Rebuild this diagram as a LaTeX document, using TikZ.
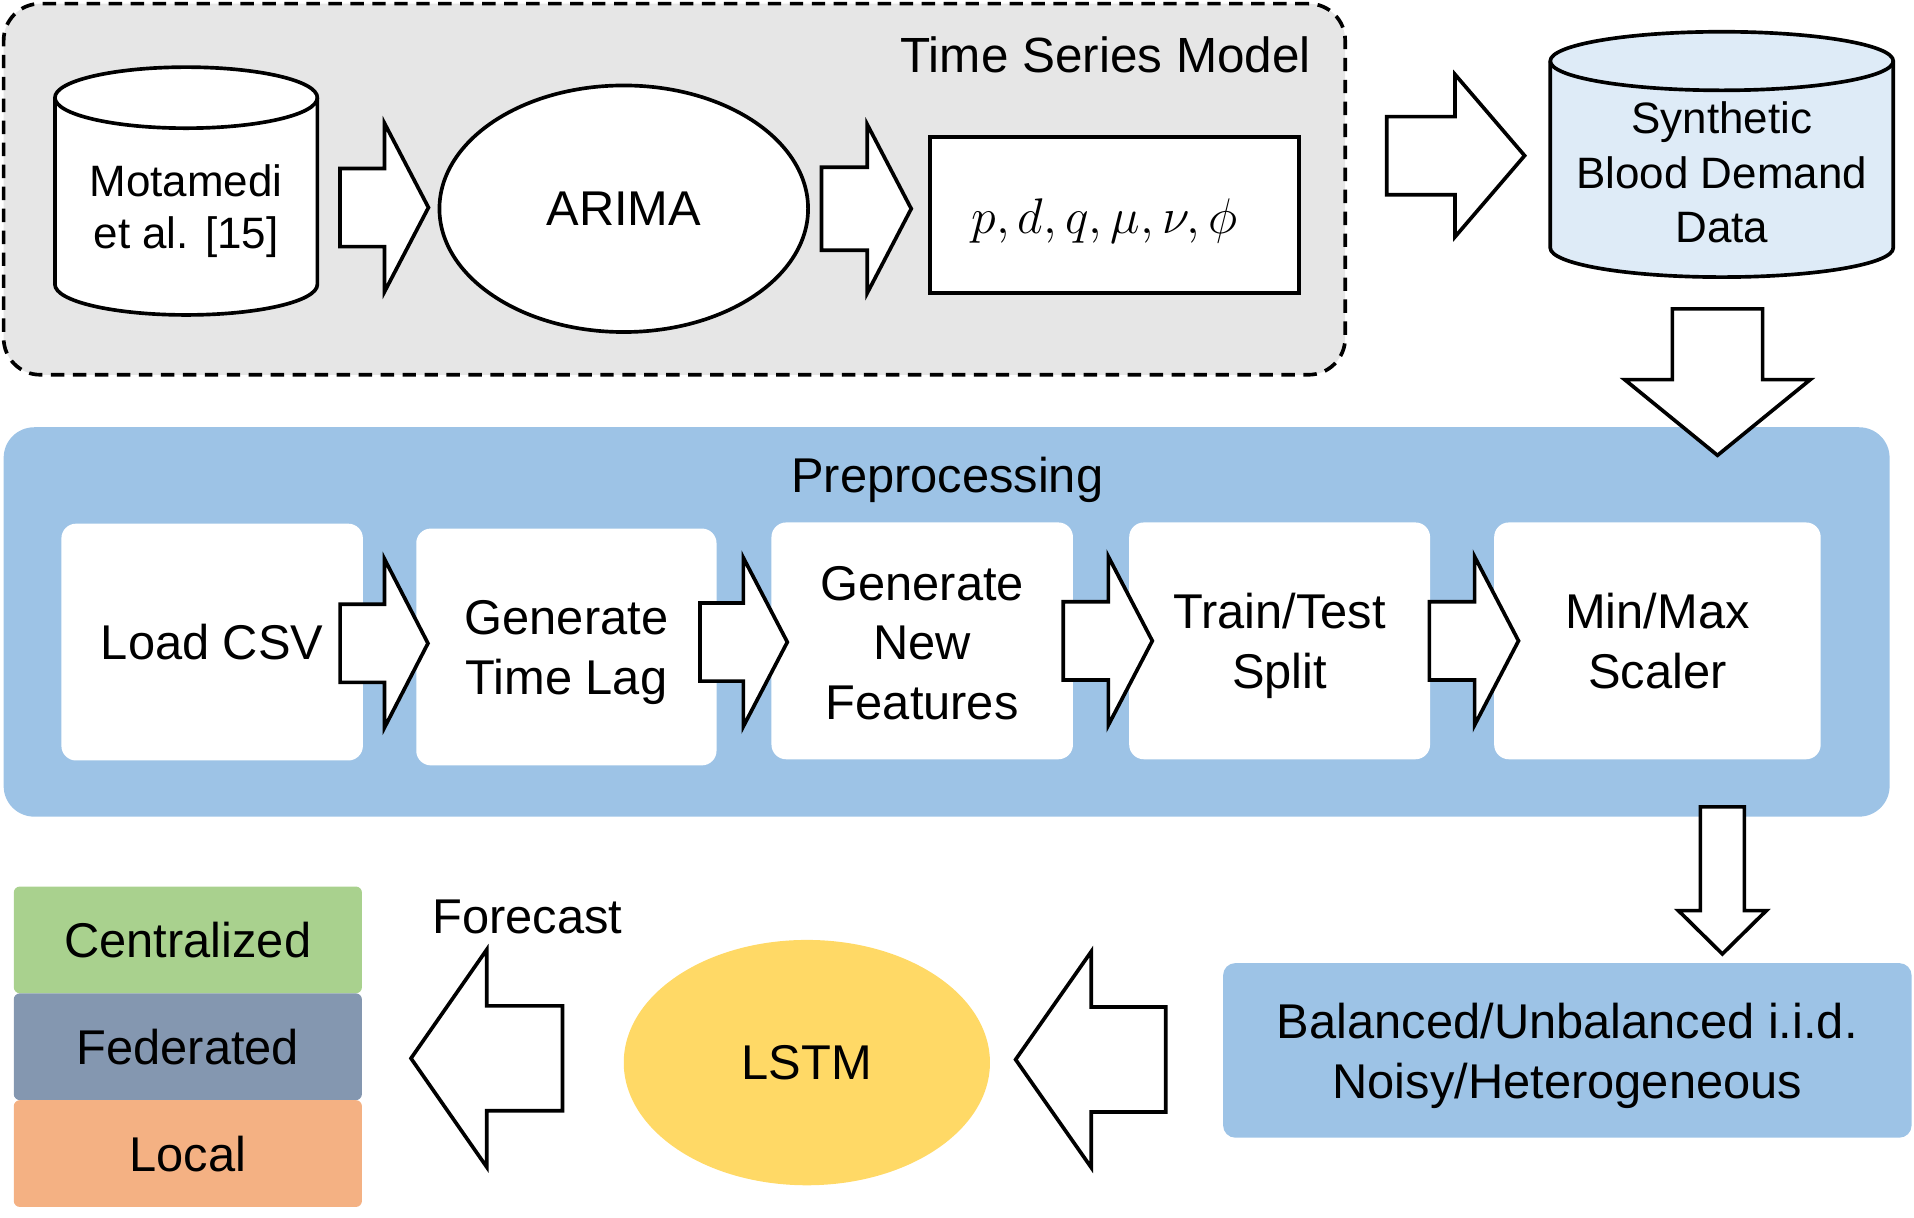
\RequirePackage{fix-cm}
\documentclass[tikz,border=0pt]{standalone}
\usepackage{fontspec}
\setmainfont{Liberation Sans}
\usetikzlibrary{shapes.geometric}
\definecolor{tsgray}{HTML}{E6E6E6}
\definecolor{synblue}{HTML}{DEEBF7}
\definecolor{preblue}{HTML}{9DC3E6}
\definecolor{cgreen}{HTML}{A9D18E}
\definecolor{fedblue}{HTML}{8497B0}
\definecolor{locorange}{HTML}{F4B183}
\definecolor{lstmyellow}{HTML}{FFD966}
\newcommand{\fsz}[2]{\fontsize{#1}{#2}\selectfont}
\newcommand{\topstrut}[1]{\rule{0pt}{#1}}
\tikzset{
  blockarr/.style={draw=black, fill=white, line width=3pt, line join=miter},
  wbox/.style={fill=white, rounded corners=12pt, inner sep=0pt, align=center, font=\fsz{40}{49}},
  stk/.style={minimum width=285.2pt, minimum height=87.5pt, rounded corners=5pt, inner sep=0pt, font=\fsz{40}{48}},
  plain/.style={inner sep=0pt, font=\fsz{40}{48}}
}
% horizontal block arrow: tail x, head-base x, tip x, centre y, shaft half, head half
\newcommand{\hblock}[6]{\draw[blockarr] (#1,#4+#5) -- (#2,#4+#5) -- (#2,#4+#6) -- (#3,#4) -- (#2,#4-#6) -- (#2,#4-#5) -- (#1,#4-#5) -- cycle;}
% vertical block arrow: centre x, tail y, head-base y, tip y, shaft half, head half
\newcommand{\vblock}[6]{\draw[blockarr] (#1-#5,#2) -- (#1-#5,#3) -- (#1-#6,#3) -- (#1,#4) -- (#1+#6,#3) -- (#1+#5,#3) -- (#1+#5,#2) -- cycle;}
% cylinder: x1 x2 ytop ybottom ry fill
\newcommand{\mycyl}[6]{%
  \pgfmathsetmacro\myrx{(#2-#1)/2}%
  \filldraw[line width=3pt, fill=#6] (#1,#3) -- (#1,#4) arc[start angle=180,end angle=360,x radius=\myrx pt,y radius=#5pt] -- (#2,#3) arc[start angle=0,end angle=180,x radius=\myrx pt,y radius=#5pt] -- cycle;
  \draw[line width=3pt] (#1,#3) arc[start angle=180,end angle=360,x radius=\myrx pt,y radius=#5pt];}
\begin{document}
\begin{tikzpicture}[x=1pt,y=1pt]
\useasboundingbox (0,0) rectangle (1568,-997);

% ---- Time series model group
\node[draw, fill=tsgray, line width=3pt, dash pattern=on 11pt off 7pt, rounded corners=30pt,
      minimum width=1099pt, minimum height=304pt, inner sep=0pt] (tsm) at (552.5,-155) {};
\node[plain, anchor=base east, font=\fsz{40.5}{48}] (tstitle) at (1074,-59.5) {Time Series Model};

\mycyl{45}{260}{-80}{-233}{25}{white}
\node[inner sep=0pt, align=center, font=\fsz{36}{42.5}] (mot) at (152.5,-173) {Motamedi\\et al. [15]};

\node[ellipse, draw, fill=white, line width=3pt, minimum width=302pt, minimum height=202pt,
      inner sep=0pt, font=\fsz{40}{48}] (arima) at (511,-171) {ARIMA};

\node[draw, fill=white, line width=3pt, minimum width=302pt, minimum height=128pt, inner sep=0pt] (params) at (913,-176) {};
\node[inner sep=0pt, font=\fsz{41}{48}] (ptext) at (905,-181) {$p,d,q,\mu,\nu,\phi$};

\hblock{278.5}{315}{351}{-170}{32}{69}
\hblock{673}{710.5}{746.5}{-171}{34}{69}

% ---- to synthetic data
\hblock{1136}{1192}{1249}{-127.5}{32}{66.5}
\mycyl{1270}{1551}{-50}{-203}{24}{synblue}
\node[inner sep=0pt, align=center, font=\fsz{36}{44.4}] (syn) at (1410.5,-138) {\topstrut{32.5pt}Synthetic\\Blood Demand\\Data};

% ---- preprocessing
\node[fill=preblue, rounded corners=25pt, minimum width=1545pt, minimum height=319pt, inner sep=0pt] (pre) at (775.5,-509.5) {};
\node[plain, anchor=base] (pretitle) at (776,-403.6) {Preprocessing};

\node[wbox, minimum width=247pt, minimum height=194pt] (load) at (173.8,-526) {Load CSV};
\node[wbox, minimum width=246pt, minimum height=194pt] (lag) at (464,-530) {\topstrut{37.5pt}Generate\\Time Lag};
\node[wbox, minimum width=247pt, minimum height=194pt] (feat) at (755.5,-525) {\topstrut{31.5pt}Generate\\New\\Features};
\node[wbox, minimum width=246.5pt, minimum height=194pt] (split) at (1048.3,-525) {\topstrut{37.5pt}Train/Test\\Split};
\node[wbox, minimum width=267.5pt, minimum height=194pt] (scale) at (1357.8,-525) {Min/Max\\Scaler};

\hblock{278.6}{315}{350.6}{-527}{32}{69}
\hblock{573.5}{609}{645}{-526}{32}{69}
\hblock{871}{908}{944}{-525}{32}{69}
\hblock{1171}{1208}{1244}{-525}{32}{69}

\vblock{1407}{-253}{-311}{-373}{37}{76}
\vblock{1411}{-661}{-746}{-781.5}{18}{36}

% ---- bottom row
\node[fill=preblue, rounded corners=10pt, minimum width=564pt, minimum height=143pt, inner sep=0pt,
      align=center, font=\fsz{40}{49}] (bal) at (1284,-860.5) {\topstrut{37.5pt}Balanced/Unbalanced i.i.d.\\Noisy/Heterogeneous};

\hblock{955}{894}{832}{-868}{43}{88.5}

\node[ellipse, fill=lstmyellow, minimum width=300pt, minimum height=201pt, inner sep=0pt,
      font=\fsz{40}{48}] (lstm) at (661,-870.5) {LSTM};

\hblock{460.8}{398.7}{336.7}{-867}{43}{89}
\node[plain, anchor=base west] (fc) at (354,-765) {Forecast};

\node[stk, fill=cgreen] (cen) at (153.9,-770) {Centralized};
\node[stk, fill=fedblue] (fed) at (153.9,-857.5) {Federated};
\node[stk, fill=locorange] (loc) at (153.9,-945) {Local};
\end{tikzpicture}
\end{document}
